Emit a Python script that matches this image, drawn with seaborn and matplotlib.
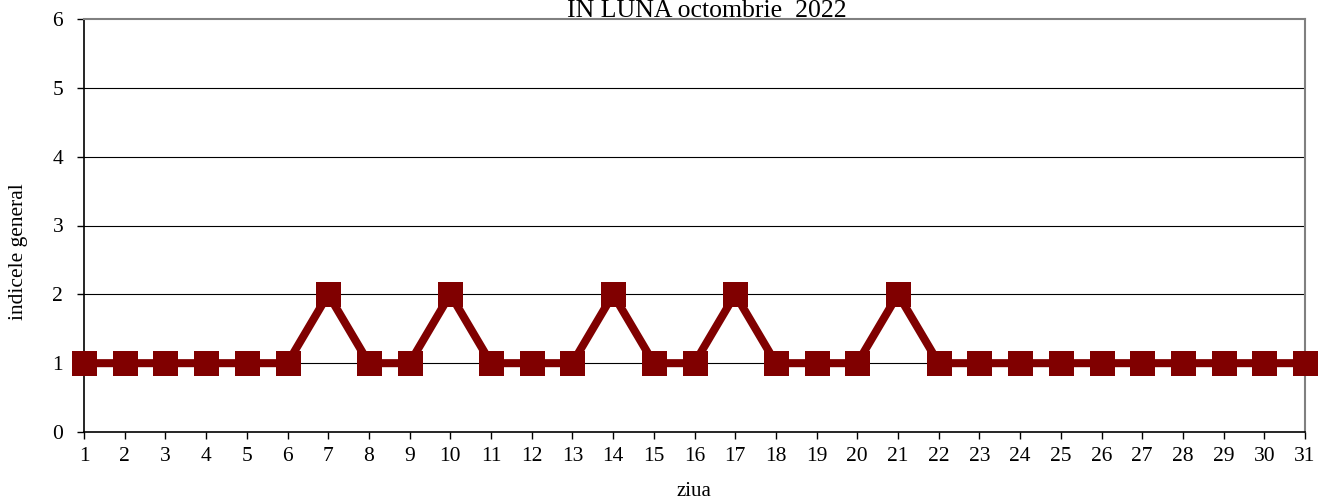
import matplotlib
matplotlib.use("Agg")
import matplotlib.pyplot as plt
import seaborn as sns
import pandas as pd

days = list(range(1, 32))
values = [1, 1, 1, 1, 1, 1, 2, 1, 1, 2, 1, 1, 1, 2, 1, 1, 2, 1, 1, 1, 2,
          1, 1, 1, 1, 1, 1, 1, 1, 1, 1]
title = "IN LUNA octombrie  2022"

sns.set_theme(style="white")
plt.rcParams['font.family'] = ['Liberation Serif', 'DejaVu Serif']

fig = plt.figure(figsize=(13.27, 5), dpi=100)
ax = fig.add_axes([84/1327, 68/500, (1305-84)/1327, (432-19)/500])

df = pd.DataFrame({"ziua": days, "indice": values})
ax.set_ylim(0, 6)
ax.set_xlim(1, 31)
ax.set_yticks(range(0, 7))
ax.set_xticks(days)
for y in range(1, 6):
    ax.axhline(y, color="black", lw=0.8, zorder=1)

sns.lineplot(data=df, x="ziua", y="indice", ax=ax, color="#800000", lw=5.8,
             marker="s", markersize=18, markeredgewidth=0, clip_on=False, zorder=3)

fig.text(707/1327, 1 - 11/500, title, fontsize=18.5, ha="center", va="center",
         color="black")
fig.text(694/1327, 1 - 492/500, "ziua", fontsize=15, ha="center", va="center",
         color="black")
fig.text(19/1327, 1 - 252/500, "indicele general", fontsize=15.5, ha="center",
         va="center", rotation=90, color="black")
ax.set_xlabel("")
ax.set_ylabel("")
ax.tick_params(axis="both", labelsize=15.5, length=5, width=1, direction="out",
               colors="black", bottom=True, left=True)
ax.tick_params(axis="x", pad=6)
ax.tick_params(axis="y", pad=10)
for s in ["left", "bottom"]:
    ax.spines[s].set_color("black")
    ax.spines[s].set_linewidth(1.2)
for s in ["top", "right"]:
    ax.spines[s].set_color("#808080")
    ax.spines[s].set_linewidth(1.5)

fig.savefig("out.png", dpi=100)
